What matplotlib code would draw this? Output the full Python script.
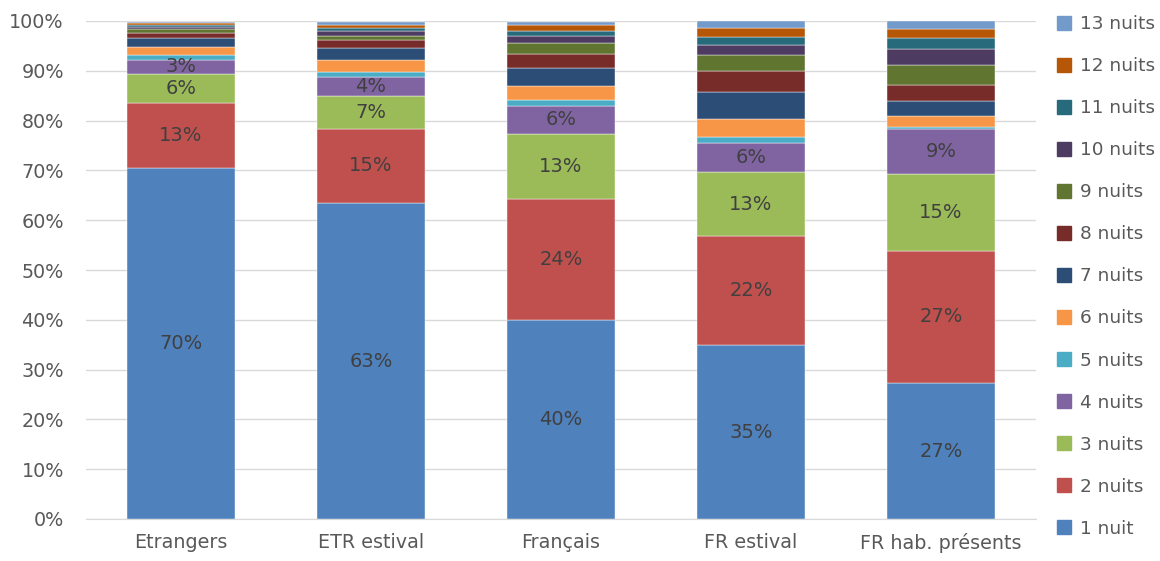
import numpy as np
import matplotlib.pyplot as plt
from matplotlib.patches import Patch

categories = ['Etrangers', 'ETR estival', 'Français', 'FR estival', 'FR hab. présents']
series = ['1 nuit', '2 nuits', '3 nuits', '4 nuits', '5 nuits', '6 nuits', '7 nuits',
          '8 nuits', '9 nuits', '10 nuits', '11 nuits', '12 nuits', '13 nuits']

# parts en % par catégorie (une ligne par durée de séjour)
nuit1 = [70.4, 63.4, 40.0, 34.9, 27.3]
nuit2 = [13.2, 15.0, 24.3, 21.9, 26.6]
nuit3 = [5.8, 6.6, 13.0, 12.9, 15.3]
nuit4 = [2.8, 3.7, 5.7, 5.9, 9.1]
nuit5 = [0.9, 1.1, 1.1, 1.1, 0.5]
nuit6 = [1.7, 2.3, 2.9, 3.7, 2.1]
nuit7 = [1.7, 2.5, 3.5, 5.4, 3.0]
nuit8 = [1.0, 1.5, 2.8, 4.2, 3.3]
nuit9 = [0.8, 0.9, 2.3, 3.1, 3.9]
nuit10 = [0.5, 0.9, 1.3, 2.1, 3.2]
nuit11 = [0.35, 0.6, 1.1, 1.6, 2.3]
nuit12 = [0.35, 0.6, 1.1, 1.7, 1.8]
nuit13 = [0.35, 0.7, 0.7, 1.5, 1.7]

valeurs = [nuit1, nuit2, nuit3, nuit4, nuit5, nuit6, nuit7,
           nuit8, nuit9, nuit10, nuit11, nuit12, nuit13]

couleurs = ['#4F81BD', '#C0504D', '#9BBB59', '#8064A2', '#4BACC6', '#F79646', '#2C4D75',
            '#772C2A', '#5F7530', '#4D3B62', '#276A7C', '#B65708', '#729ACA']

fig = plt.figure(figsize=(11.6, 5.61), dpi=100)
ax = fig.add_axes([86 / 1160, 42 / 561, 950 / 1160, 498 / 561])

x = np.arange(len(categories))
bas = np.zeros(len(categories))
for i, (nom, v) in enumerate(zip(series, valeurs)):
    v = np.array(v)
    ax.bar(x, v, 0.57, bottom=bas, color=couleurs[i], edgecolor='white',
           linewidth=0.3, zorder=3)
    if i < 4:
        for xi, b, h in zip(x, bas, v):
            ax.text(xi, b + h / 2, f'{round(h):.0f}%', ha='center', va='center',
                    fontsize=14, color='#404040', zorder=4)
    bas += v

ax.set_xlim(-0.5, 4.5)
ax.set_ylim(0, 100)
ax.set_yticks(np.arange(0, 101, 10))
ax.set_yticklabels([f'{t}%' for t in range(0, 101, 10)])
ax.set_xticks(x)
ax.set_xticklabels(categories)
ax.tick_params(axis='both', length=0, labelsize=13.8, colors='#595959')
ax.tick_params(axis='y', pad=16)
ax.tick_params(axis='x', pad=10)
ax.yaxis.grid(True, color='#D9D9D9', linewidth=1, zorder=0)
for s in ['top', 'right', 'left']:
    ax.spines[s].set_visible(False)
ax.spines['bottom'].set_color('#D9D9D9')

handles = [Patch(color=couleurs[i], label=series[i]) for i in range(len(series))][::-1]
fig.legend(handles=handles, loc='upper left', bbox_to_anchor=(1050 / 1160, 1 - 8 / 561),
           frameon=False, fontsize=13.3, labelcolor='#595959', handlelength=0.75,
           handleheight=0.75, handletextpad=0.5, labelspacing=1.30, borderaxespad=0)

fig.savefig('out.png', dpi=100)
